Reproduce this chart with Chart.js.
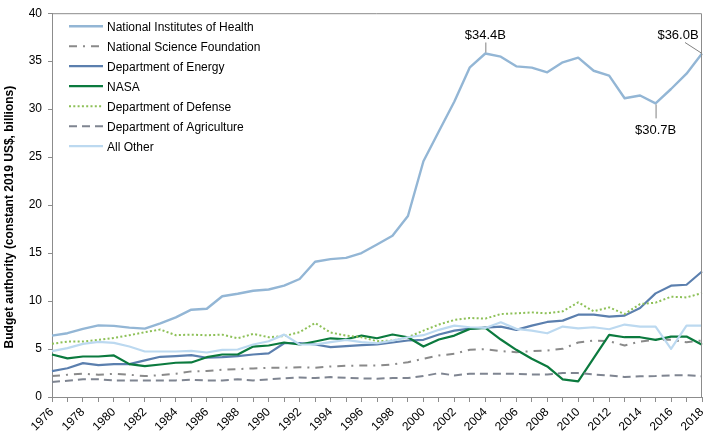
<!DOCTYPE html>
<html><head><meta charset="utf-8">
<script src="https://cdn.jsdelivr.net/npm/chart.js@4.4.0/dist/chart.umd.min.js"></script>
<style>html,body{margin:0;padding:0;background:#fff;}#wrap{width:720px;height:435px;position:relative;}</style>
</head><body><div id="wrap"><canvas id="c"></canvas></div>
<script>
const years = ['1976','1977','1978','1979','1980','1981','1982','1983','1984','1985','1986','1987','1988','1989','1990','1991','1992','1993','1994','1995','1996','1997','1998','1999','2000','2001','2002','2003','2004','2005','2006','2007','2008','2009','2010','2011','2012','2013','2014','2015','2016','2017','2018'];
const seriesNames = ['National Institutes of Health','National Science Foundation','Department of Energy','NASA','Department of Defense','Department of Agriculture','All Other'];
const nih = [6.4,6.65,7.1,7.47,7.41,7.23,7.13,7.68,8.3,9.1,9.2,10.5,10.76,11.07,11.2,11.6,12.3,14.09,14.37,14.5,15.0,15.9,16.8,18.86,24.57,27.7,30.8,34.36,35.8,35.47,34.46,34.33,33.84,34.88,35.37,34.0,33.5,31.14,31.42,30.6,32.1,33.7,35.8];
const nsf = [2.18,2.32,2.42,2.32,2.42,2.32,2.18,2.28,2.42,2.67,2.7,2.84,2.91,2.98,3.05,3.05,3.11,3.05,3.18,3.25,3.28,3.29,3.39,3.63,3.98,4.33,4.5,4.92,4.99,4.78,4.67,4.78,4.85,5.02,5.68,5.89,5.82,5.37,5.78,5.96,5.96,5.71,5.89];
const doe = [2.7,3.0,3.53,3.32,3.42,3.42,3.81,4.19,4.26,4.36,4.09,4.15,4.26,4.43,4.54,5.6,5.63,5.47,5.19,5.3,5.4,5.47,5.68,5.89,5.96,6.51,6.92,7.13,7.23,7.34,7.0,7.44,7.82,7.96,8.58,8.58,8.38,8.48,9.28,10.8,11.6,11.7,13.08];
const nasa = [4.43,4.02,4.22,4.22,4.33,3.43,3.22,3.39,3.57,3.6,4.15,4.43,4.43,5.26,5.37,5.68,5.47,5.78,6.12,6.02,6.4,6.12,6.51,6.23,5.26,5.99,6.4,7.1,7.2,5.99,4.92,3.98,3.19,1.84,1.63,4.05,6.47,6.23,6.23,5.96,6.3,6.3,5.44];
const dod = [5.54,5.78,5.78,5.95,6.16,6.44,6.75,7.03,6.44,6.5,6.44,6.5,6.12,6.58,6.23,6.35,6.75,7.72,6.72,6.4,6.23,5.82,5.88,6.23,6.92,7.55,8.03,8.24,8.17,8.65,8.72,8.82,8.72,8.93,9.86,8.93,9.34,8.65,9.69,9.83,10.45,10.38,10.83];
const usda = [1.56,1.7,1.84,1.84,1.73,1.73,1.73,1.73,1.73,1.8,1.73,1.73,1.84,1.73,1.84,1.94,2.04,1.97,2.08,2.0,1.94,1.91,1.98,1.98,2.18,2.49,2.25,2.42,2.42,2.42,2.42,2.35,2.35,2.49,2.49,2.35,2.25,2.08,2.15,2.18,2.25,2.28,2.15];
const other = [4.78,5.09,5.54,5.75,5.64,5.26,4.74,4.74,4.74,4.81,4.64,4.92,4.95,5.47,5.81,6.5,5.47,5.47,5.71,5.95,5.71,5.6,5.88,6.23,6.44,7.0,7.44,7.27,7.2,7.79,7.1,6.92,6.64,7.34,7.16,7.27,7.06,7.55,7.34,7.34,5.02,7.44,7.44];
const yTicks = [0,5,10,15,20,25,30,35,40];
const annoYears = ['2004','2015','2018'];
const annoLabels = ['$34.4B','$30.7B','$36.0B'];
const yTitle = 'Budget authority (constant 2019 US$, billions)';

const FONT = '"Liberation Sans", Arial, sans-serif';
const styles = [
  {c:'#93b6d5', w:2.4, d:[]},
  {c:'#8a8a8a', w:2, d:[8,6,2,6]},
  {c:'#5b7fae', w:2.2, d:[]},
  {c:'#0b7a3e', w:2.2, d:[]},
  {c:'#8dc057', w:2, d:[2,2.3]},
  {c:'#7f8591', w:2, d:[8,5]},
  {c:'#bcd9f0', w:2.2, d:[]}
];
const values = [nih,nsf,doe,nasa,dod,usda,other];
const datasets = values.map((v,i)=>({
  label: seriesNames[i], data: v, borderColor: styles[i].c, backgroundColor: styles[i].c,
  borderWidth: styles[i].w, borderDash: styles[i].d, pointRadius:0, tension:0, fill:false,
  borderJoinStyle:'round', order: 7-i
}));

const overlay = {
  id:'overlay',
  afterDatasetsDraw(chart){
    const {ctx, chartArea:a, scales:{x,y}} = chart;
    ctx.save();
    ctx.strokeStyle='#8c8c8c'; ctx.lineWidth=1; ctx.setLineDash([]);
    ctx.beginPath();
    ctx.moveTo(a.left, a.top+0.5); ctx.lineTo(a.right-0.5, a.top+0.5); ctx.lineTo(a.right-0.5, a.bottom);
    ctx.stroke();
    // legend
    chart.data.datasets.forEach((ds,i)=>{
      const yy = a.top + 13 + 20*i;
      ctx.beginPath(); ctx.setLineDash(ds.borderDash||[]);
      ctx.strokeStyle=ds.borderColor; ctx.lineWidth=ds.borderWidth; ctx.lineCap='butt';
      ctx.moveTo(a.left+17, yy); ctx.lineTo(a.left+51, yy); ctx.stroke();
      ctx.setLineDash([]);
      ctx.fillStyle='#000'; ctx.font='12px '+FONT; ctx.textBaseline='middle'; ctx.textAlign='left';
      ctx.fillText(ds.label, a.left+55, yy+1);
    });
    // annotations
    ctx.strokeStyle='#808080'; ctx.lineWidth=1; ctx.setLineDash([]);
    ctx.fillStyle='#000'; ctx.font='13px '+FONT; ctx.textAlign='center'; ctx.textBaseline='alphabetic';
    annoYears.forEach((yr,k)=>{
      const idx = years.indexOf(yr);
      const px = x.getPixelForValue(idx), py = y.getPixelForValue(nih[idx]);
      ctx.beginPath();
      if(k===0){
        ctx.moveTo(px+0.5, py-1); ctx.lineTo(px+0.5, py-11); ctx.stroke();
        ctx.fillText(annoLabels[k], px, py-14.5);
      } else if(k===1){
        ctx.moveTo(px+0.5, py+1); ctx.lineTo(px+0.5, py+15); ctx.stroke();
        ctx.fillText(annoLabels[k], px, py+31);
      } else {
        ctx.moveTo(px, py); ctx.lineTo(px-17, py-11); ctx.stroke();
        ctx.fillText(annoLabels[k], px-24, py-14.5);
      }
    });
    // y title
    ctx.save();
    ctx.translate(10, (a.top+a.bottom)/2 + 12);
    ctx.rotate(-Math.PI/2);
    ctx.font='bold 12px '+FONT; ctx.textAlign='center'; ctx.textBaseline='middle';
    ctx.fillText(yTitle, 0, 0);
    ctx.restore();
    ctx.restore();
  }
};

new Chart(document.getElementById('c'), {
  type:'line',
  data:{labels: years, datasets},
  options:{
    responsive:true, maintainAspectRatio:false, animation:false,
    layout:{padding:{left:0, top:12, right:18, bottom:0}},
    plugins:{legend:{display:false}, tooltip:{enabled:false}},
    scales:{
      x:{
        type:'category', offset:false,
        grid:{display:true, drawOnChartArea:false, drawTicks:true, tickLength:5, color:'#8c8c8c'},
        border:{display:true, color:'#8c8c8c', width:1},
        ticks:{autoSkip:false, maxRotation:45, minRotation:45, padding:3, color:'#000',
          font:{family:FONT, size:12},
          callback:(v,i)=> (i%2===0 ? years[i] : '')},
        afterFit:(s)=>{ s.height = 38; }
      },
      y:{
        min:0, max:40,
        grid:{display:true, drawOnChartArea:false, drawTicks:true, tickLength:4, color:'#8c8c8c'},
        border:{display:true, color:'#8c8c8c', width:1},
        afterBuildTicks:(s)=>{ s.ticks = yTicks.map(v=>({value:v})); },
        ticks:{padding:6, color:'#000', font:{family:FONT, size:12}},
        afterFit:(s)=>{ s.width = 52; }
      }
    }
  },
  plugins:[overlay]
});
</script></body></html>
